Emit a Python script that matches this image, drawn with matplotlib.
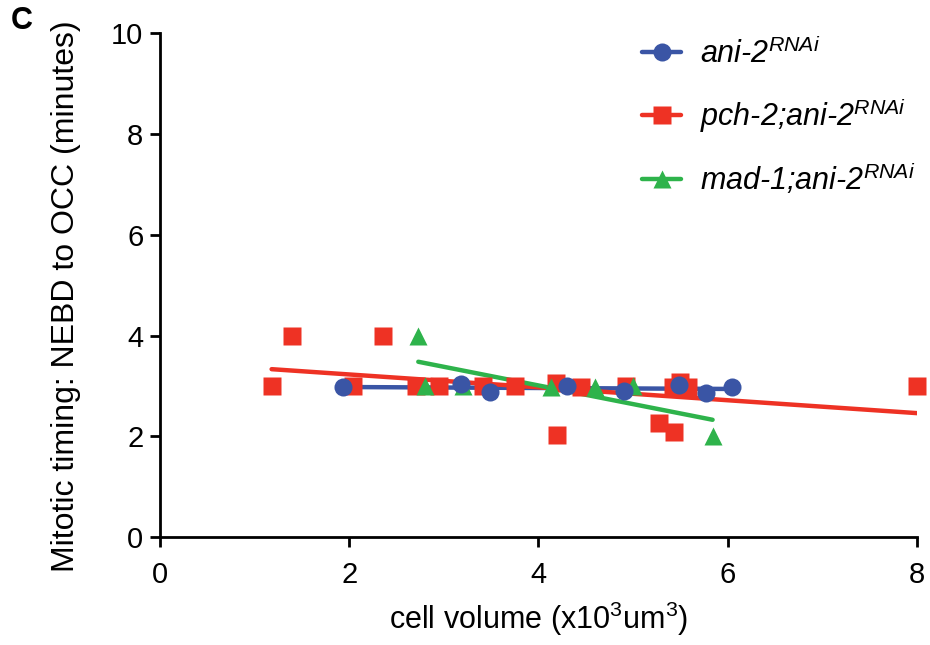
import numpy as np
import matplotlib
matplotlib.use("Agg")
from matplotlib import pyplot as plt
from matplotlib.lines import Line2D

plt.rcParams['font.family'] = ['Liberation Sans', 'DejaVu Sans']
plt.rcParams['mathtext.fontset'] = 'custom'
plt.rcParams['mathtext.it'] = 'Liberation Sans:italic'
plt.rcParams['mathtext.rm'] = 'Liberation Sans'

# cell volume (x10^3 um^3) vs NEBD -> OCC time (min)
ani2_vol = [1.93, 3.18, 3.49, 4.30, 4.90, 5.48, 5.77, 6.05]
ani2_time = [2.98, 3.03, 2.88, 3.0, 2.9, 3.02, 2.86, 2.98]

pch2_vol = [1.18, 1.40, 2.04, 2.36, 2.71, 2.95, 3.41, 3.75, 4.19, 4.20,
            4.45, 4.92, 5.27, 5.43, 5.42, 5.50, 5.58, 8.0]
pch2_time = [3.0, 4.0, 3.0, 4.0, 3.0, 3.0, 3.0, 3.0, 3.05, 2.02,
             2.98, 3.0, 2.26, 2.08, 2.97, 3.08, 2.97, 3.0]

mad1_vol = [2.73, 2.80, 3.20, 4.13, 4.60, 5.00, 5.84]
mad1_time = [4.0, 3.0, 3.0, 2.98, 2.98, 3.0, 2.0]

blue = '#3A55A5'
red = '#EE3224'
green = '#2EB34B'

series = [
    (ani2_vol, ani2_time, blue, 'o', 13, 5, 'ani-2$^{RNAi}$'),
    (pch2_vol, pch2_time, red, 's', 13, 3, 'pch-2;ani-2$^{RNAi}$'),
    (mad1_vol, mad1_time, green, '^', 13, 4, 'mad-1;ani-2$^{RNAi}$'),
]

fig = plt.figure(figsize=(9.3, 6.45), dpi=100)
ax = fig.add_axes([0.172, 0.167, 0.814, 0.782])

handles = []
for x, y, c, m, ms, z, lab in series:
    x = np.array(x)
    y = np.array(y)
    # linear regression over the range of the data
    k, b = np.polyfit(x, y, 1)
    xf = np.array([x.min(), x.max()])
    ax.plot(xf, k * xf + b, color=c, lw=3.2, solid_capstyle='round', zorder=2)
    ax.plot(x, y, linestyle='none', marker=m, ms=ms, color=c, mec='none',
            zorder=z, clip_on=False)
    handles.append(Line2D([], [], color=c, lw=3.2, marker=m, ms=ms, mec='none',
                          solid_capstyle='round', label=lab))

ax.set_xlim(0, 8)
ax.set_ylim(0, 10)
ax.set_xticks([0, 2, 4, 6, 8])
ax.set_yticks([0, 2, 4, 6, 8, 10])
for s in ['top', 'right']:
    ax.spines[s].set_visible(False)
for s in ['left', 'bottom']:
    ax.spines[s].set_linewidth(2)
ax.tick_params(width=2, length=7, labelsize=21)
ax.tick_params(axis='x', pad=10)
ax.tick_params(axis='y', pad=5)

ax.set_xlabel('cell volume (x10$^{\\mathrm{3}}$um$^{\\mathrm{3}}$)', fontsize=22, labelpad=8)
ax.set_ylabel('Mitotic timing: NEBD to OCC (minutes)', fontsize=23)
ax.yaxis.set_label_coords(-0.104, 0.478)

leg = ax.legend(handles=handles, loc='upper left', bbox_to_anchor=(0.6, 1.045),
                frameon=False, handlelength=1.3, handletextpad=0.6,
                labelspacing=0.85, prop={'size': 22, 'style': 'italic'})

fig.text(0.012, 0.968, 'C', fontsize=22, fontweight='bold', va='center')

fig.savefig('out.png', dpi=100)
